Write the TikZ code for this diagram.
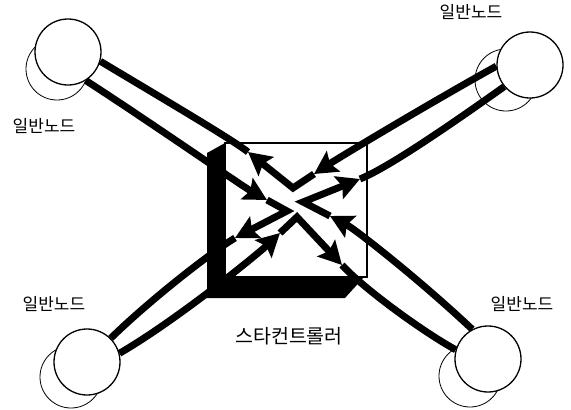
\documentclass[tikz,border=0pt]{standalone}
\usepackage{fontspec}
\newfontfamily\kr{Noto Sans CJK KR}
\usetikzlibrary{arrows.meta}
\pgfdeclarelayer{under}
\pgfdeclarelayer{mid}
\pgfsetlayers{under,mid,main}

\begin{document}
\begin{tikzpicture}[x=1pt, y=-1pt, >={Stealth[length=23pt, width=24pt, inset=4pt]},
	nd/.style={circle, draw, line width=1.3pt, fill=white, inner sep=0pt, minimum size=66pt},
	ndback/.style={circle, draw, line width=0.8pt, fill=white, inner sep=0pt, minimum size=62pt},
	link/.style={line width=7pt},
	lbl/.style={font=\kr\fontsize{17}{19}\selectfont, inner sep=0pt}]
	\useasboundingbox (0,0) rectangle (571,410);
	% nodes
	\node[nd] (tl) at (68,52) {};
	\node[nd] (tr) at (530,65) {};
	\node[nd] (bl) at (87,362) {};
	\node[nd] (br) at (488,359) {};
	\node[lbl] (tlL) at (44,126) {일반노드};
	\node[lbl] (trL) at (471,12) {일반노드};
	\node[lbl] (blL) at (54,304) {일반노드};
	\node[lbl] (brL) at (522,304) {일반노드};
	\node[lbl, font=\kr\fontsize{19.5}{21}\selectfont] (ctrlL) at (289,336) {스타컨트롤러};
	\begin{pgfonlayer}{under}
		\node[ndback] (tlB) at (57,69) {};
		\node[ndback] (trB) at (506,80) {};
		\node[ndback] (blB) at (71,377) {};
		\node[ndback] (brB) at (470,376) {};
		\draw[line width=1.5pt, fill=white] (225,143) rectangle (367,277);
		\fill (225,143) -- (207,153) -- (207,298) -- (345,298) -- (364,277) -- (225,277) -- cycle;
	\end{pgfonlayer}
	% crossing points
	\coordinate (vt) at (293,188);
	\coordinate (vl) at (287,211);
	\coordinate (vb) at (297,217);
	\coordinate (vr) at (303,202);
	\coordinate (a1) at (314,174);
	\coordinate (a2) at (248,152);
	\coordinate (a3) at (267,200);
	\coordinate (a4) at (235,238);
	\coordinate (a5) at (280,233);
	\coordinate (a6) at (342,265);
	\coordinate (a7) at (330,216);
	\coordinate (a8) at (360,179);
	\begin{pgfonlayer}{mid}
		\draw[link, ->] (tr.182) .. controls (430,103) and (340,157) .. (a1);
		\draw[link, ->] (a1) -- (vt) -- (a2);
		\draw[link] (a2) .. controls (233,140) and (165,100) .. (tl.-16);
		\draw[link, ->] (tl.-58) .. controls (150,122) and (242,186) .. (a3);
		\draw[link, ->] (a3) -- (vl) -- (a4);
		\draw[link] (a4) .. controls (210,253) and (150,300) .. (bl.45);
		\draw[link, ->] (bl.15) .. controls (180,318) and (260,252) .. (a5);
		\draw[link, ->] (a5) -- (vb) -- (a6);
		\draw[link] (a6) .. controls (362,287) and (420,330) .. (br.164);
		\draw[link, ->] (br.118) .. controls (420,280) and (355,229) .. (a7);
		\draw[link, ->] (a7) -- (vr) -- (a8);
		\draw[link] (a8) .. controls (390,167) and (460,118) .. (tr.-140);
	\end{pgfonlayer}
\end{tikzpicture}
\end{document}
